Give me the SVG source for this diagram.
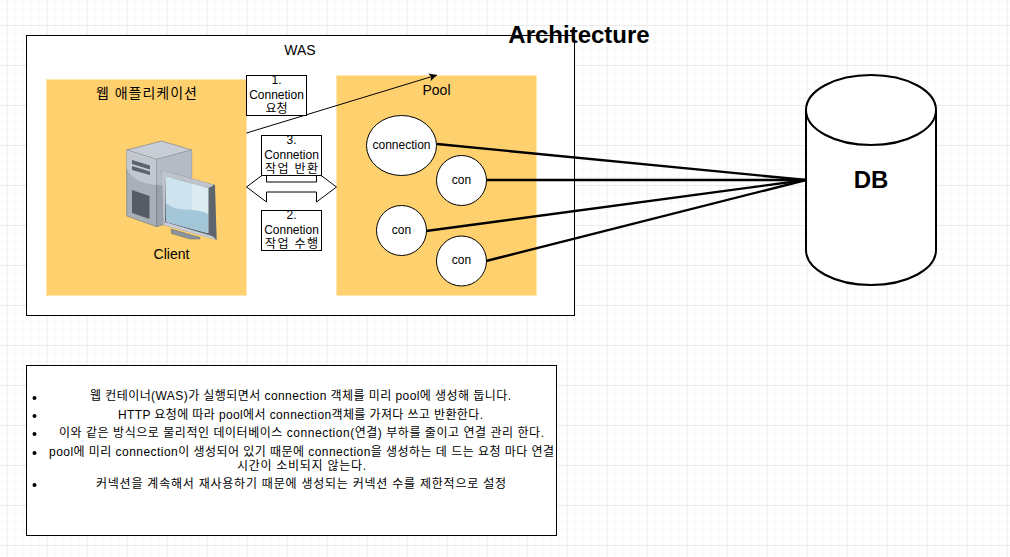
<svg xmlns="http://www.w3.org/2000/svg" width="1010" height="557" viewBox="0 0 1010 557">
<style>
text{font-family:"Liberation Sans","Noto Sans CJK KR",sans-serif;font-size:12px;fill:#000;text-anchor:middle}
.box{fill:#fff;stroke:#000;stroke-width:1}
.panel{fill:#ffd16e;stroke:#ffe6b0;stroke-width:1}
.node{fill:#fff;stroke:#000;stroke-width:1}
.link{fill:none;stroke:#000;stroke-width:2.4}
.lg{font-size:14px}
</style>
<defs>
<pattern id="minor" width="8" height="8" patternUnits="userSpaceOnUse" x="6.5" y="1"><path d="M8 0H0V8" fill="none" stroke="#f0f0f0" stroke-width="1"/></pattern>
<pattern id="major" width="40" height="40" patternUnits="userSpaceOnUse" x="6.5" y="25"><path d="M40 0H0V40" fill="none" stroke="#e2e2e2" stroke-width="1"/></pattern>
<marker id="arr" markerUnits="userSpaceOnUse" markerWidth="10" markerHeight="10" refX="8" refY="4" orient="auto"><path d="M0 0L8 4L0 8L2 4Z" fill="#000"/></marker>
</defs>
<rect width="1010" height="557" fill="#fff"/>
<rect width="1010" height="557" fill="url(#minor)"/>
<rect width="1010" height="557" fill="url(#major)"/>
<g id="was"><rect class="box" x="26.5" y="35.5" width="548" height="280"/><text x="300" y="55" class="lg">WAS</text></g>
<text id="title" x="579" y="43" style="font-size:24px;font-weight:bold">Architecture</text>
<g id="webapp"><rect class="panel" x="46.5" y="79.5" width="200" height="216"/><text x="146.500" y="98" class="lg" textLength="101">웹 애플리케이션</text></g>
<g id="pool"><rect class="panel" x="336.5" y="75.5" width="200" height="220"/><text x="436.500" y="95" class="lg">Pool</text></g>
<g id="client">
<path d="M126.7 150L161.7 141L191.7 150L156.7 159.5Z" fill="#c9ced6" stroke="#6d7680" stroke-width=".6"/>
<path d="M126.7 150L156.7 159.5V226.7L126.7 216Z" fill="#a8afb9" stroke="#6d7680" stroke-width=".6"/>
<path d="M126.7 150L156.7 159.5V185C142 184 130 178 126.7 168Z" fill="#c3c8d0"/>
<path d="M156.7 159.5L191.7 150V216L156.7 226.7Z" fill="#9aa2ad" stroke="#6d7680" stroke-width=".6"/>
<path d="M156.7 159.5L191.7 150V185H156.7Z" fill="#b5bbc4"/>
<path d="M132 160L150 165.5V169.5L132 164ZM132 166L150 171.5V175L132 170Z" fill="#5c636c"/>
<path d="M132 190L149.5 196V219L132 213Z" fill="#565c63"/>
<path d="M171 229L200 237.5V239L190 239L171.5 233.5Z" fill="#8c939b" stroke="#5f666e" stroke-width=".5"/>
<path d="M161.7 170L215 185L216.7 240L163.3 225Z" fill="#5e656d"/>
<path d="M161.7 170L213 184.5V186L208 188L166 176L165 222L163.3 225Z" fill="#bfc4cc"/>
<path d="M163.3 225L165 222L212 236L216.7 240Z" fill="#c9ced6"/>
<path d="M166 176L208.3 188.3V233.3L166 221.7Z" fill="#cfe3ee"/>
<path d="M166 203C180 215 195 205 208.3 214V233.3L166 221.7Z" fill="#a3c6d9"/>
<path d="M192 183.5L208.3 188.3V214C203 211 197 210 192 210Z" fill="#dcebef"/>
<text x="171.500" y="259" style="font-size:14px">Client</text>
</g>
<g id="connectors">
<path d="M246.500 133L437 75" fill="none" stroke="#000" stroke-width="1" marker-end="url(#arr)"/>
<path class="link" d="M437 144L806 180"/>
<path class="link" d="M486 180L806 180"/>
<path class="link" d="M426 231L806 180"/>
<path class="link" d="M486 261L806 180"/>
</g>
<g id="transfer"><path d="M246.500 187L266.500 172V182H316.500V172L336.500 187L316.500 202V192H266.500V202Z" fill="#fff" stroke="#000" stroke-width="1"/></g>
<g id="step1"><rect class="box" x="246.500" y="75.500" width="60" height="40"/><text x="276.500" y="84">1.</text><text x="276.500" y="99">Connetion</text><text x="276.500" y="113" textLength="22">요청</text></g>
<g id="step3"><rect class="box" x="261.500" y="135.500" width="60" height="40"/><text x="291.500" y="144">3.</text><text x="291.500" y="159">Connetion</text><text x="291.500" y="173" textLength="53">작업 반환</text></g>
<g id="step2"><rect class="box" x="261.500" y="210.500" width="60" height="40"/><text x="291.500" y="219">2.</text><text x="291.500" y="234">Connetion</text><text x="291.500" y="248" textLength="53">작업 수행</text></g>
<g id="conn1"><ellipse class="node" cx="401.500" cy="145.500" rx="35" ry="30"/><text x="401.500" y="149">connection</text></g>
<g id="conn2"><circle class="node" cx="461.500" cy="180.500" r="25"/><text x="461.500" y="184">con</text></g>
<g id="conn3"><circle class="node" cx="401.500" cy="230.500" r="25"/><text x="401.500" y="234">con</text></g>
<g id="conn4"><circle class="node" cx="461.500" cy="261" r="25"/><text x="461.500" y="264">con</text></g>
<g id="db"><path d="M806 110A65 35 0 0 1 936 110V250A65 35 0 0 1 806 250Z" fill="#fff" stroke="#000" stroke-width="2"/><path d="M806 110A65 35 0 0 0 936 110" fill="none" stroke="#000" stroke-width="2"/><text x="871" y="188" style="font-size:24px;font-weight:bold">DB</text></g>
<g id="notes"><rect class="box" x="26.500" y="365.500" width="530" height="170"/>
<circle cx="34.500" cy="398" r="2"/><circle cx="34.500" cy="416" r="2"/><circle cx="34.500" cy="434" r="2"/><circle cx="34.500" cy="453" r="2"/><circle cx="34.500" cy="485" r="2"/>
<text x="300.500" y="400" textLength="421">웹 컨테이너(WAS)가 실행되면서 connection 객체를 미리 pool에 생성해 둡니다.</text>
<text x="300.500" y="419" textLength="365">HTTP 요청에 따라 pool에서 connection객체를 가져다 쓰고 반환한다.</text>
<text x="301.500" y="437" textLength="485">이와 같은 방식으로 물리적인 데이터베이스 connection(연결) 부하를 줄이고 연결 관리 한다.</text>
<text x="301.500" y="456" textLength="505">pool에 미리 connection이 생성되어 있기 때문에 connection을 생성하는 데 드는 요청 마다 연결</text>
<text x="301.500" y="470" textLength="129">시간이 소비되지 않는다.</text>
<text x="301" y="488" textLength="410">커넥션을 계속해서 재사용하기 때문에 생성되는 커넥션 수를 제한적으로 설정</text>
</g>
</svg>
